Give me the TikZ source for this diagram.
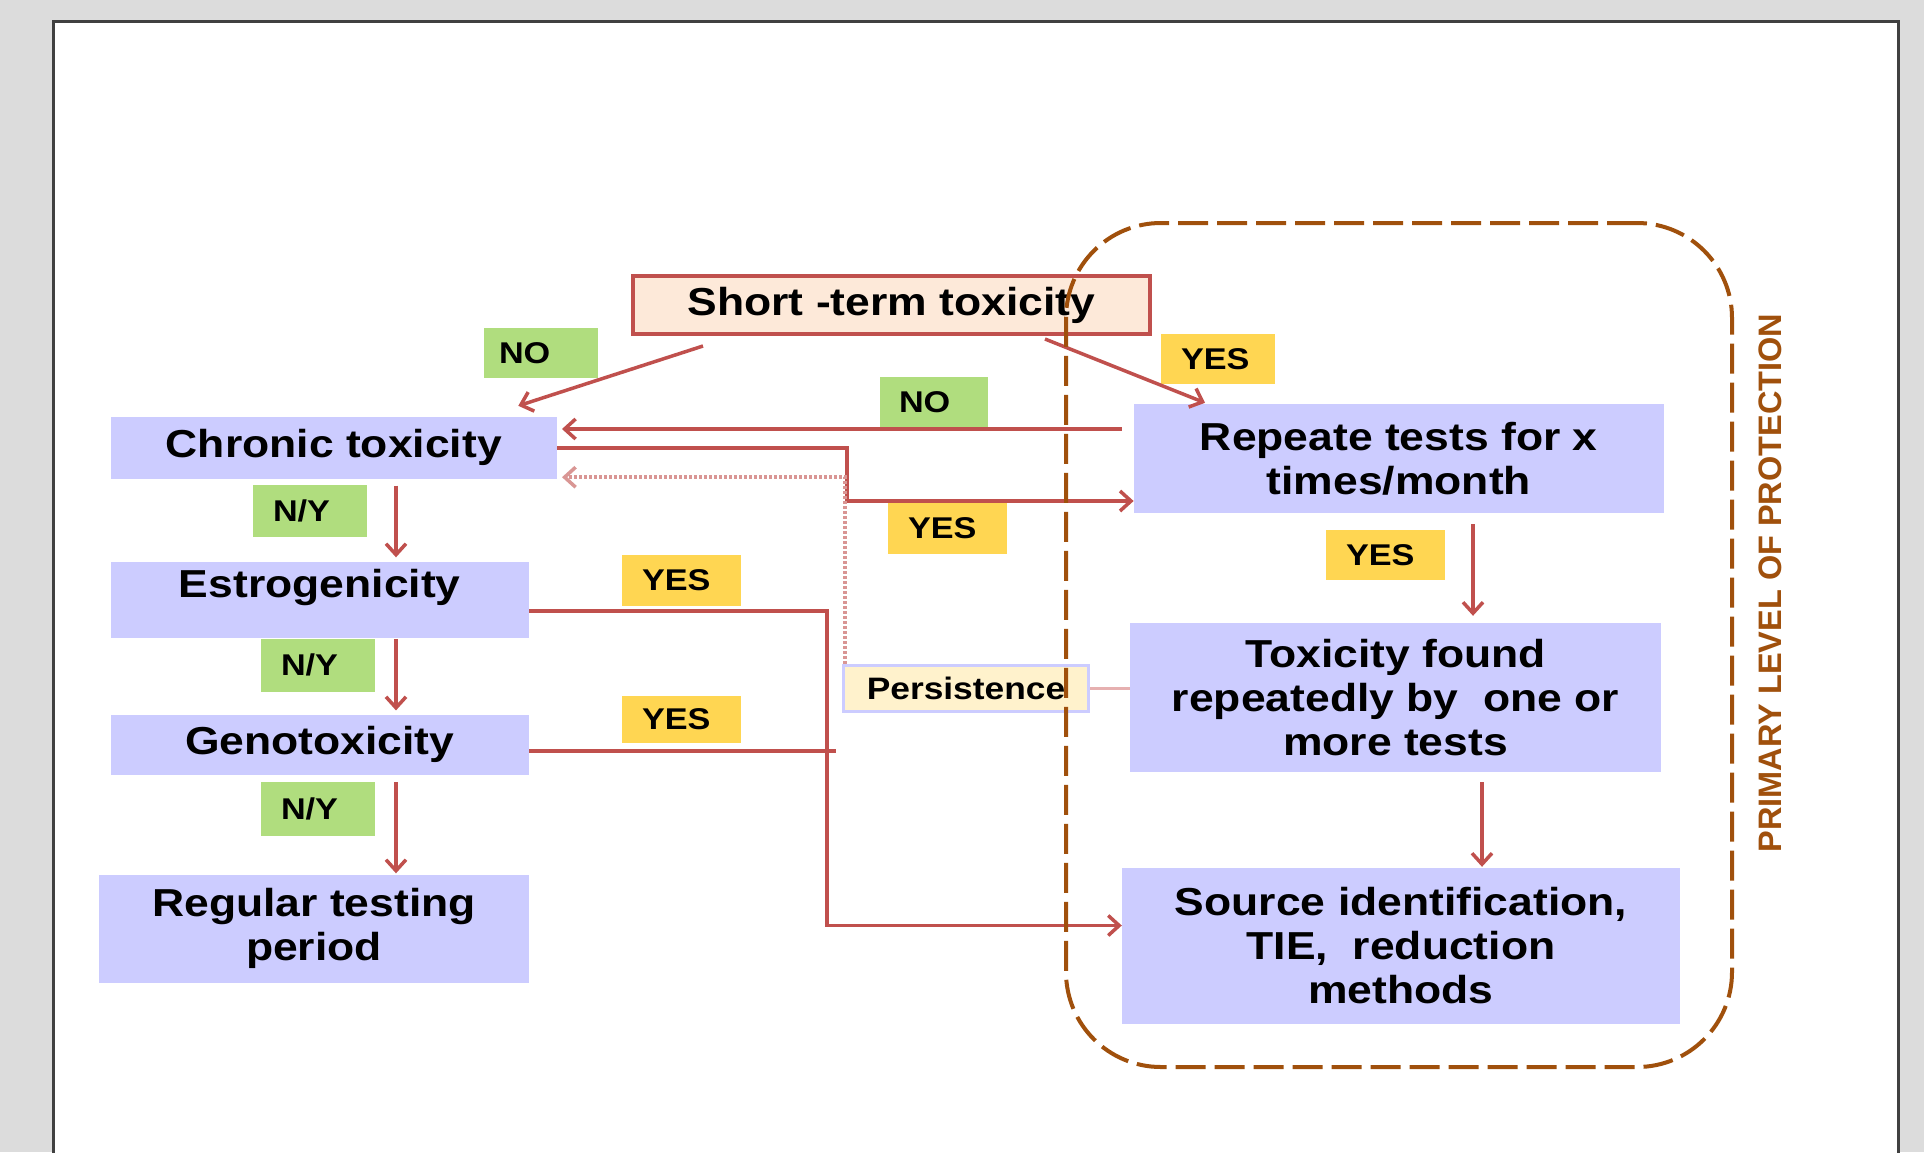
\documentclass[tikz,border=0pt]{standalone}
\usepackage{fontspec}
\setmainfont{Liberation Sans}[FakeStretch=1.14]
\newfontfamily\vfont{Liberation Sans}
\usetikzlibrary{arrows.meta,calc}
\definecolor{boxblue}{HTML}{CCCCFF}
\definecolor{lgreen}{HTML}{B0DD7E}
\definecolor{lyellow}{HTML}{FFD652}
\definecolor{peach}{HTML}{FDE9D9}
\definecolor{cream}{HTML}{FFF2CC}
\definecolor{redline}{HTML}{C0504D}
\definecolor{pinkline}{HTML}{D99694}
\definecolor{pinklight}{HTML}{E6B0B0}
\definecolor{dbrown}{HTML}{A0500C}
\definecolor{pagebg}{HTML}{DCDCDC}
\definecolor{pageline}{HTML}{404040}
\begin{document}
\begin{tikzpicture}[x=1pt,y=-1pt,
  box/.style={fill=boxblue, inner sep=0pt, align=center, font=\bfseries\fontsize{39}{44}\selectfont},
  tag/.style={inner ysep=0pt, inner xsep=20pt, align=left, font=\bfseries\fontsize{30}{32}\selectfont},
  ntag/.style={tag, fill=lgreen},
  ytag/.style={tag, fill=lyellow},
  conn/.style={draw=redline, line width=3.5pt},
  arr/.style={conn, -{Straight Barb[length=11pt,width=20pt]}},
  dotline/.style={draw=pinkline, line width=3.5pt, dash pattern=on 3pt off 2pt, -{Straight Barb[length=11pt,width=20pt]}},
]
\useasboundingbox (0,0) rectangle (1924,1152);
\fill[pagebg] (0,0) rectangle (1924,1152);
\filldraw[fill=white, draw=pageline, line width=3pt] (53,21) rectangle (1898,1175);

% main boxes
\node[draw=redline, line width=4pt, fill=peach, inner sep=0pt, minimum width=517pt, minimum height=58pt,
      font=\bfseries\fontsize{39}{44}\selectfont] (short) at (891.5,305) {Short -term toxicity};
\node[box, minimum width=446pt, minimum height=61.5pt] (chronic) at (333.8,447.75) {Chronic toxicity};
\node[box, minimum width=418pt, minimum height=76.5pt] (estro) at (319.8,599.75) {\raisebox{12pt}[\height][\depth]{Estrogenicity}};
\node[box, minimum width=418pt, minimum height=60.4pt] (geno) at (319.8,744.8) {Genotoxicity};
\node[box, minimum width=430pt, minimum height=108pt] (regular) at (314,928.5) {Regular testing\\period};
\node[box, minimum width=530pt, minimum height=109pt] (repeat) at (1398.8,458.5) {Repeate tests for x\\times/month};
\node[box, minimum width=531pt, minimum height=149pt] (tox) at (1395.5,697.5) {Toxicity found\\repeatedly by\ \ one or\\more tests};
\node[box, minimum width=558pt, minimum height=156pt] (source) at (1401,946) {Source identification,\\TIE,\ \ reduction\\methods};
\node[draw=boxblue, line width=3.5pt, fill=cream, inner sep=0pt, minimum width=245pt, minimum height=46pt,
      font=\bfseries\fontsize{31}{33}\selectfont] (persist) at (966,688.5) {Persistence};

% labels
\node[ntag, minimum height=50pt, text width=84pt, inner xsep=15pt] (no1) at (541,353) {NO};
\node[ytag, minimum height=50pt, text width=74pt] (yes1) at (1218,359) {YES};
\node[ntag, minimum height=50pt, text width=70pt, inner xsep=19pt] (no2) at (934,402) {NO};
\node[ntag, minimum height=52pt, text width=74pt] (ny1) at (310,511) {N/Y};
\node[ytag, minimum height=51pt, text width=79pt] (yes2) at (947.5,528.5) {YES};
\node[ytag, minimum height=50pt, text width=79pt] (yes3) at (1385.5,555) {YES};
\node[ytag, minimum height=51pt, text width=79pt] (yes4) at (681.5,580) {YES};
\node[ntag, minimum height=53pt, text width=74pt] (ny2) at (318,665) {N/Y};
\node[ytag, minimum height=47pt, text width=79pt] (yes5) at (681.5,719) {YES};
\node[ntag, minimum height=54pt, text width=74pt] (ny3) at (318,808.5) {N/Y};

% connectors
\coordinate (ax) at (396,0);
\coordinate (bx) at (1473,0);
\coordinate (cx) at (1482,0);
\draw[arr, shorten <=7pt, shorten >=4pt] (chronic.south -| ax) -- (estro.north -| ax);
\draw[arr, shorten <=1pt, shorten >=4pt] (estro.south -| ax) -- (geno.north -| ax);
\draw[arr, shorten <=7pt, shorten >=1pt] (geno.south -| ax) -- (regular.north -| ax);
\draw[arr, shorten <=11pt, shorten >=7pt] (repeat.south -| bx) -- (tox.north -| bx);
\draw[arr, shorten <=10pt, shorten >=1pt] (tox.south -| cx) -- (source.north -| cx);

\draw[arr] ($(short.south)+(-188.5,10)$) -- ($(chronic.north)+(184.5,-11)$);
\draw[arr] ($(short.south)+(153.5,3)$) -- ($(repeat.north)+(-193.8,-1)$);

\coordinate (nos) at ($(repeat.west)+(-12,-29.5)$);
\draw[arr] (nos) -- ($(chronic.east |- nos)+(5,0)$);

\coordinate (ybend) at (847,0);
\coordinate (yend) at ($(repeat.west)+(0,42.5)$);
\draw[arr] (chronic.east) -| (ybend |- yend) -- (yend);

\coordinate (ps) at ($(persist.north)+(-121,0)$);
\draw[dotline] (ps) |- ($(chronic.south east)+(5,-1.5)$);
\draw[draw=pinklight, line width=3.5pt] (persist.east) -- (persist.east -| tox.west);

\coordinate (ebend) at (827,0);
\coordinate (send) at ($(source.west)+(0,-20.5)$);
\draw[arr] ($(estro.east)+(0,11)$) -| (ebend |- send) -- (send);

\coordinate (gend) at (836,0);
\coordinate (gs) at ($(geno.east)+(0,6)$);
\draw[conn] (gs) -- (gs -| gend);

% dashed zone
\node[draw=dbrown, line width=4pt, dash pattern=on 30pt off 9pt, rounded corners=95pt,
      minimum width=666pt, minimum height=844pt, inner sep=0pt] (zone) at (1399,645) {};
\node[rotate=90, text=dbrown, inner sep=0pt, font=\vfont\bfseries\fontsize{32.5}{34}\selectfont] (plp) at (1770,583) {PRIMARY LEVEL OF PROTECTION};
\end{tikzpicture}
\end{document}
